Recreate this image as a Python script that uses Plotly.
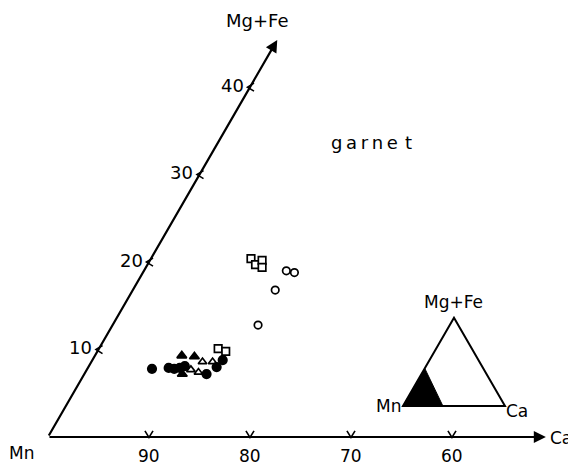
import math
import plotly.graph_objects as go

# ---- data: (Ca %, Mg+Fe %) ----
filled_circle_ca = [6.4, 8.0, 8.6, 9.1, 9.5, 12.1, 12.7, 12.9]
filled_circle_mgfe = [7.8, 7.9, 7.8, 7.9, 8.1, 7.2, 8.0, 8.8]

filled_tri_ca = [8.6, 9.9, 9.7]
filled_tri_mgfe = [9.3, 9.2, 7.2]

open_tri_ca = [10.3, 11.2, 11.0, 12.0]
open_tri_mgfe = [7.7, 7.4, 8.6, 8.6]

open_square_ca = [11.8, 12.7, 9.9, 10.7, 11.1, 11.5]
open_square_mgfe = [10.1, 9.8, 20.4, 19.7, 20.2, 19.4]

open_circle_ca = [14.1, 15.0, 14.1, 14.4]
open_circle_mgfe = [19.0, 18.8, 16.8, 12.8]

ca_ticks = [10, 20, 30, 40]
ca_tick_labels = ["90", "80", "70", "60"]
mgfe_ticks = [10, 20, 30, 40]
mgfe_tick_labels = ["10", "20", "30", "40"]

S3 = math.sqrt(3) / 2


def tx(ca, t):
    return [c + v / 2 for c, v in zip(ca, t)]


def ty(t):
    return [v * S3 for v in t]


FONT = "DejaVu Sans"
fig = go.Figure()


def add_pts(ca, t, symbol, size, filled):
    fig.add_trace(go.Scatter(
        x=tx(ca, t), y=ty(t), mode="markers",
        marker=dict(symbol=symbol, size=size,
                    color="black" if filled else "white",
                    line=dict(color="black", width=1.7)),
        showlegend=False, hoverinfo="skip"))


add_pts(open_square_ca, open_square_mgfe, "square", 7.5, False)
add_pts(open_circle_ca, open_circle_mgfe, "circle", 7.5, False)
add_pts(open_tri_ca, open_tri_mgfe, "triangle-up", 7.5, False)
add_pts(filled_tri_ca, filled_tri_mgfe, "triangle-up", 8.5, True)
add_pts(filled_circle_ca, filled_circle_mgfe, "circle", 8.5, True)

shapes = []
ann = []

# axes arrows
CA_END = 49.3
MG_END = 45.4
ann.append(dict(x=CA_END, y=0, ax=0, ay=0, xref="x", yref="y", axref="x", ayref="y",
                showarrow=True, arrowhead=2, arrowsize=1.1, arrowwidth=2.2, arrowcolor="black", text=""))
ann.append(dict(x=MG_END / 2, y=MG_END * S3, ax=0, ay=0, xref="x", yref="y", axref="x", ayref="y",
                showarrow=True, arrowhead=2, arrowsize=1.1, arrowwidth=2.2, arrowcolor="black", text=""))

# tick chevrons (in data units; 1 unit ~ 10.1 px)
for v in ca_ticks:
    shapes.append(dict(type="path", path=f"M {v-0.4},{0.6} L {v},-0.05 L {v+0.4},{0.6}",
                       line=dict(color="black", width=1.6), xref="x", yref="y"))
for v in mgfe_ticks:
    X, Y = v / 2 - 0.25, v * S3
    shapes.append(dict(type="path",
                       path=f"M {X+0.65},{Y+0.4} L {X},{Y} L {X+0.65},{Y-0.4}",
                       line=dict(color="black", width=1.6), xref="x", yref="y"))

for v, lab in zip(ca_ticks, ca_tick_labels):
    ann.append(dict(x=v, y=0, xref="x", yref="y", text=lab, showarrow=False,
                    yshift=-19, font=dict(family=FONT, size=17, color="black")))
for v, lab in zip(mgfe_ticks, mgfe_tick_labels):
    ann.append(dict(x=v / 2, y=v * S3, xref="x", yref="y", text=lab, showarrow=False,
                    xanchor="right", xshift=-4, yshift=2,
                    font=dict(family=FONT, size=18, color="black")))

# axis end labels
ann.append(dict(x=MG_END / 2, y=MG_END * S3, xref="x", yref="y", text="Mg+Fe", showarrow=False,
                xshift=-20, yshift=19, font=dict(family=FONT, size=18, color="black")))
ann.append(dict(x=CA_END, y=0, xref="x", yref="y", text="Ca", showarrow=False,
                xanchor="left", xshift=2, yshift=-1, font=dict(family=FONT, size=17, color="black")))
ann.append(dict(x=0, y=0, xref="x", yref="y", text="Mn", showarrow=False,
                xshift=-26, yshift=-16, font=dict(family=FONT, size=17, color="black")))
ann.append(dict(x=32.0, y=29.2, xref="x", yref="y", text="g\u2009a\u2009r\u2009n\u2009e\u2009\u2009t",
                showarrow=False, font=dict(family=FONT, size=18, color="black")))

# inset triangle
IMX, IMY = 35.15, 3.07
ICX = 45.25
IAX, IAY = 40.2, 3.07 + 10.1 * S3
shapes.append(dict(type="path",
                   path=f"M {IMX},{IMY} L {IMX+2.17},{IMY+3.70} L {IMX+3.95},{IMY} Z",
                   fillcolor="black", line=dict(color="black", width=1), xref="x", yref="y"))
shapes.append(dict(type="path", path=f"M {IMX},{IMY} L {ICX},{IMY} L {IAX},{IAY} Z",
                   line=dict(color="black", width=2), xref="x", yref="y"))
ann.append(dict(x=IAX, y=IAY, xref="x", yref="y", text="Mg+Fe", showarrow=False,
                yshift=16, font=dict(family=FONT, size=17, color="black")))
ann.append(dict(x=IMX, y=IMY, xref="x", yref="y", text="Mn", showarrow=False,
                xanchor="right", xshift=0, yshift=0, font=dict(family=FONT, size=17, color="black")))
ann.append(dict(x=ICX, y=IMY, xref="x", yref="y", text="Ca", showarrow=False,
                xanchor="left", xshift=-1, yshift=-5, font=dict(family=FONT, size=17, color="black")))

# page body has an 8px margin; shift ranges so marks land where the reference has them
OFF = 8 / 10.1
fig.update_layout(
    width=576, height=466, margin=dict(l=0, r=0, t=0, b=0),
    plot_bgcolor="white", paper_bgcolor="white",
    xaxis=dict(range=[-4.75 + OFF, 52.28 + OFF], visible=False, fixedrange=True),
    yaxis=dict(range=[-2.87 - OFF, 43.27 - OFF], visible=False, fixedrange=True),
    shapes=shapes, annotations=ann, showlegend=False,
)
fig.write_html("out.html")
